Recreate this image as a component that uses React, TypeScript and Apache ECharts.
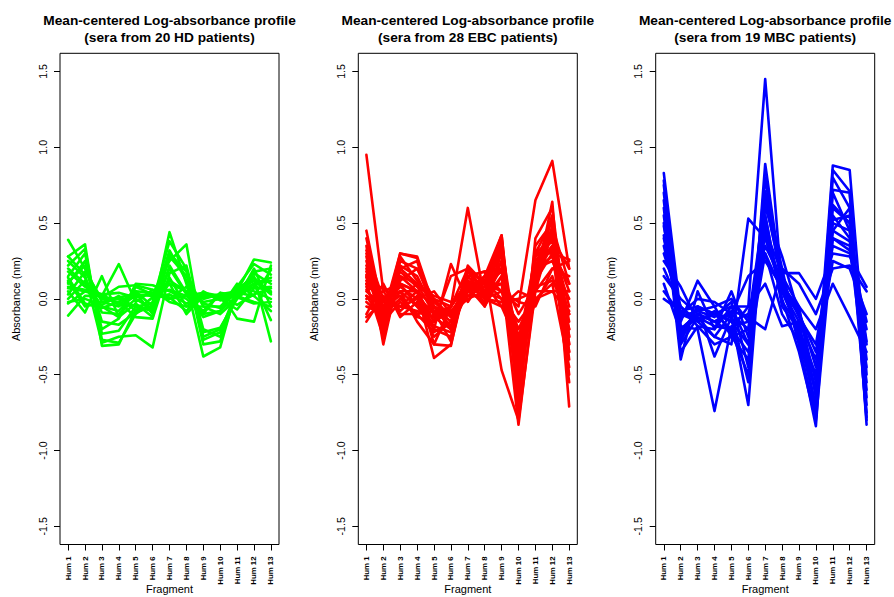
import React, { useEffect, useRef } from "react";
import * as echarts from "echarts";

const FRAGMENTS = ["Hum 1", "Hum 2", "Hum 3", "Hum 4", "Hum 5", "Hum 6", "Hum 7", "Hum 8", "Hum 9", "Hum 10", "Hum 11", "Hum 12", "Hum 13"];
const Y_TICKS = [-1.5, -1.0, -0.5, 0.0, 0.5, 1.0, 1.5];
const MAIN_TITLE = "Mean-centered Log-absorbance profile";
const SUB_TITLES = ["(sera from 20 HD patients)", "(sera from 28 EBC patients)", "(sera from 19 MBC patients)"];
const COLORS = ["#00FF00", "#FF0000", "#0000FF"];

// 20 healthy donors
const HD = [
  [0.39, 0.20, -0.02, 0.01, 0.03, 0.02, 0.10, 0.05, -0.02, 0.00, 0.02, 0.08, 0.05],
  [0.28, 0.36, -0.31, -0.30, -0.07, -0.05, 0.30, 0.18, -0.25, -0.20, 0.02, 0.18, 0.20],
  [0.22, 0.33, -0.27, -0.29, -0.10, -0.02, 0.38, 0.20, -0.30, -0.28, 0.05, 0.26, 0.24],
  [0.15, 0.30, -0.23, -0.21, -0.05, -0.08, 0.44, 0.10, -0.38, -0.32, 0.08, 0.23, 0.16],
  [0.10, 0.25, -0.20, -0.13, 0.08, 0.03, 0.25, 0.36, -0.27, -0.22, 0.06, 0.15, -0.28],
  [0.28, 0.16, -0.29, -0.25, -0.24, -0.32, 0.17, 0.22, -0.20, -0.25, 0.04, 0.17, 0.10],
  [0.05, -0.09, 0.15, -0.12, 0.10, 0.09, 0.05, 0.00, -0.10, 0.04, -0.13, -0.15, 0.22],
  [-0.11, 0.02, 0.02, 0.23, -0.02, 0.06, 0.01, -0.08, 0.05, -0.01, 0.03, 0.10, -0.14],
  [0.20, 0.10, -0.05, -0.08, 0.05, -0.05, 0.12, 0.05, 0.00, 0.03, 0.05, 0.12, 0.03],
  [0.07, 0.05, 0.01, 0.08, 0.09, 0.06, -0.02, -0.05, 0.03, 0.00, -0.07, 0.07, 0.08],
  [0.12, -0.05, -0.02, -0.05, 0.02, 0.03, 0.00, 0.02, -0.08, 0.04, 0.02, -0.02, -0.05],
  [0.00, 0.12, -0.05, -0.12, -0.03, -0.12, 0.28, 0.15, -0.05, -0.10, 0.00, 0.10, 0.14],
  [0.18, 0.08, 0.01, 0.00, -0.05, -0.03, 0.10, -0.10, 0.02, 0.01, 0.04, 0.02, 0.19],
  [0.03, 0.18, 0.00, -0.02, 0.04, -0.10, 0.20, 0.03, -0.10, -0.08, 0.08, 0.05, 0.00],
  [-0.02, 0.00, -0.04, 0.02, -0.08, 0.01, 0.03, -0.03, 0.01, 0.03, 0.01, -0.03, -0.02],
  [0.25, 0.14, -0.09, -0.10, 0.00, -0.07, 0.14, -0.05, -0.05, -0.05, 0.04, 0.10, 0.12],
  [0.08, 0.06, 0.03, -0.04, 0.05, 0.04, 0.00, 0.08, -0.03, -0.06, 0.10, 0.02, -0.08],
  [0.14, -0.03, -0.06, -0.02, -0.12, -0.13, 0.22, 0.04, -0.12, -0.08, 0.02, 0.14, 0.04],
  [-0.03, 0.05, 0.03, 0.04, 0.01, 0.04, 0.06, 0.02, 0.04, 0.02, -0.04, 0.03, 0.07],
  [0.11, 0.22, -0.15, -0.17, -0.09, -0.05, 0.32, 0.12, -0.22, -0.19, 0.00, 0.20, -0.05],
];

// 28 early breast cancer patients
const EBC = [
  [0.95, 0.05, 0.10, 0.05, -0.05, -0.10, 0.10, 0.05, 0.20, -0.40, 0.30, 0.40, -0.20],
  [0.45, -0.10, 0.30, 0.28, -0.05, -0.20, 0.05, 0.10, 0.42, -0.65, 0.20, 0.55, -0.30],
  [0.35, -0.30, 0.20, 0.10, -0.10, -0.05, 0.10, 0.00, 0.05, -0.05, 0.65, 0.91, 0.20],
  [0.25, -0.15, 0.30, 0.27, -0.10, -0.05, 0.60, 0.00, 0.15, -0.83, 0.10, 0.64, -0.71],
  [-0.15, 0.02, -0.05, 0.05, -0.39, -0.30, 0.15, 0.18, -0.47, -0.80, 0.05, 0.45, -0.50],
  [0.15, -0.10, 0.05, -0.15, -0.30, -0.31, 0.20, 0.10, 0.10, -0.60, 0.30, 0.30, 0.26],
  [0.20, -0.20, 0.25, 0.20, 0.00, -0.12, 0.08, 0.12, 0.35, -0.35, 0.25, 0.40, 0.20],
  [0.05, -0.05, 0.10, -0.05, -0.20, 0.23, -0.02, 0.15, 0.05, -0.02, -0.05, 0.20, 0.15],
  [0.30, -0.08, 0.15, 0.05, -0.15, -0.08, 0.05, 0.08, 0.30, -0.50, 0.15, 0.35, -0.35],
  [0.00, 0.05, -0.10, -0.10, -0.05, -0.15, 0.18, 0.05, 0.00, -0.15, 0.00, 0.05, -0.10],
  [-0.05, -0.10, 0.00, 0.10, 0.00, -0.05, 0.12, 0.00, -0.05, 0.05, 0.00, 0.10, -0.45],
  [0.10, 0.00, -0.05, -0.08, -0.12, -0.20, 0.20, -0.05, 0.25, -0.45, 0.20, 0.25, 0.00],
  [0.40, -0.12, 0.22, 0.15, -0.08, -0.10, 0.00, 0.05, 0.38, -0.55, 0.35, 0.50, -0.25],
  [0.12, -0.05, 0.08, 0.00, -0.18, -0.22, 0.22, 0.10, -0.05, -0.30, 0.10, 0.55, -0.40],
  [0.02, -0.15, -0.02, -0.10, -0.08, -0.28, 0.15, 0.02, 0.20, -0.25, 0.12, 0.30, 0.10],
  [0.18, -0.02, 0.18, 0.08, 0.02, -0.02, 0.06, 0.15, 0.42, -0.60, 0.22, 0.35, 0.05],
  [-0.10, 0.10, -0.12, -0.02, -0.25, -0.15, 0.10, 0.10, 0.05, -0.35, -0.02, 0.15, -0.20],
  [0.08, -0.18, 0.12, 0.20, -0.05, -0.18, 0.05, -0.02, 0.30, -0.45, 0.18, 0.42, -0.15],
  [0.22, -0.05, 0.02, -0.12, -0.15, -0.05, 0.12, 0.05, 0.10, -0.20, 0.05, 0.20, 0.25],
  [0.28, -0.22, 0.28, 0.12, -0.02, -0.12, 0.02, 0.08, 0.40, -0.75, 0.40, 0.60, -0.30],
  [0.06, 0.08, -0.08, 0.02, -0.10, -0.10, 0.08, -0.05, 0.15, -0.10, 0.08, 0.12, -0.08],
  [-0.02, -0.12, 0.05, 0.05, -0.20, -0.25, 0.18, 0.12, 0.00, -0.40, 0.25, 0.32, -0.55],
  [0.14, -0.08, 0.20, 0.25, -0.12, -0.08, 0.02, 0.02, 0.35, -0.65, 0.15, 0.48, 0.10],
  [0.32, 0.00, 0.05, -0.05, -0.05, -0.20, 0.15, 0.18, 0.20, -0.30, 0.28, 0.38, -0.05],
  [0.10, -0.25, 0.15, 0.10, -0.30, -0.05, 0.20, 0.05, 0.25, -0.55, 0.10, 0.45, -0.35],
  [-0.12, -0.02, -0.05, 0.00, 0.05, -0.10, 0.10, 0.00, -0.02, 0.00, 0.05, 0.05, 0.05],
  [0.02, -0.05, 0.10, 0.05, -0.15, 0.15, 0.20, 0.10, 0.18, -0.50, 0.20, 0.28, -0.10],
  [0.16, -0.10, 0.00, -0.10, -0.22, -0.15, 0.05, 0.15, 0.32, -0.70, 0.30, 0.52, -0.25],
];

// 19 metastatic breast cancer patients
const MBC = [
  [0.83, -0.10, -0.15, -0.10, -0.20, -0.05, 1.45, 0.05, -0.20, -0.60, 0.88, 0.85, -0.50],
  [0.75, -0.20, -0.10, -0.15, -0.10, -0.55, 0.89, 0.10, -0.25, -0.70, 0.85, 0.71, -0.83],
  [0.70, -0.25, -0.05, -0.38, -0.12, -0.70, 0.71, 0.20, -0.30, -0.84, 0.72, 0.70, -0.75],
  [0.60, -0.40, 0.05, -0.20, -0.05, -0.30, 0.60, 0.28, -0.10, -0.55, 0.60, 0.50, -0.60],
  [0.55, -0.30, -0.12, -0.25, -0.30, 0.53, 0.40, 0.05, -0.15, -0.75, 0.50, 0.45, -0.40],
  [0.48, -0.15, 0.12, -0.05, -0.25, -0.20, 0.55, -0.05, -0.20, -0.50, 0.45, 0.60, -0.70],
  [0.42, -0.18, -0.20, -0.74, -0.18, -0.15, 0.65, 0.15, -0.05, -0.65, 0.55, 0.40, -0.30],
  [0.35, -0.12, -0.08, -0.12, -0.02, -0.45, 0.50, 0.00, -0.35, -0.80, 0.40, 0.35, -0.55],
  [0.25, 0.08, -0.15, -0.08, -0.15, -0.10, 0.35, 0.12, -0.12, -0.30, 0.35, 0.30, -0.20],
  [0.20, -0.05, -0.18, -0.20, 0.05, -0.25, 0.45, 0.17, 0.17, 0.00, 0.30, 0.28, 0.08],
  [0.15, 0.00, -0.10, -0.15, -0.08, -0.12, -0.20, 0.20, 0.10, -0.10, 0.20, 0.22, 0.05],
  [0.10, -0.22, -0.12, -0.18, -0.20, -0.35, 0.30, -0.10, -0.28, -0.60, 0.52, 0.55, -0.65],
  [0.05, -0.10, 0.00, -0.02, -0.10, 0.15, 0.25, 0.08, -0.05, -0.20, 0.10, -0.12, -0.35],
  [0.00, -0.08, -0.05, -0.10, -0.05, -0.05, 0.10, -0.18, -0.15, -0.40, 0.25, 0.20, -0.10],
  [0.65, -0.35, -0.18, -0.30, -0.25, -0.40, 0.80, 0.05, -0.22, -0.72, 0.62, 0.50, -0.78],
  [0.30, -0.05, -0.15, -0.25, -0.10, -0.20, 0.42, 0.10, -0.08, -0.45, 0.45, 0.38, -0.45],
  [0.50, -0.28, -0.05, -0.10, -0.15, -0.30, 0.55, -0.02, -0.18, -0.62, 0.70, 0.45, -0.28],
  [0.78, -0.20, -0.10, -0.15, -0.22, -0.50, 0.65, 0.12, -0.30, -0.78, 0.80, 0.60, -0.80],
  [0.40, -0.12, -0.08, -0.05, 0.00, -0.15, 0.30, 0.05, -0.10, -0.35, 0.40, 0.32, -0.15],
];

const GROUPS = [HD, EBC, MBC];

const FONT = "'Liberation Sans', Arial, Helvetica, sans-serif";
const GRID_LEFT = [60, 358.3, 655.7];
const GRID_TOP = 53.3;
const GRID_W = 219;
const GRID_H = 491.2;

export default function App() {
  const ref = useRef<HTMLDivElement>(null);

  useEffect(() => {
    if (!ref.current) return;
    const chart = echarts.init(ref.current, undefined, { renderer: "svg" });
    const xTickVals = FRAGMENTS.map((_, k) => k + 1);

    const grid = GRID_LEFT.map((l) => ({
      left: l,
      top: GRID_TOP,
      width: GRID_W,
      height: GRID_H,
      show: true,
      borderColor: "#000",
      borderWidth: 1,
      backgroundColor: "transparent",
      containLabel: false,
      outerBoundsMode: "none",
    }));

    const xAxis = GRID_LEFT.map((_, i) => ({
      type: "value",
      gridIndex: i,
      min: 0.52,
      max: 13.48,
      name: "Fragment",
      nameLocation: "middle",
      nameGap: 39,
      nameMoveOverlap: false,
      nameTextStyle: { fontSize: 11, color: "#000", fontFamily: FONT },
      axisLine: { show: false, onZero: false },
      splitLine: { show: false },
      axisTick: { show: true, length: 6, customValues: xTickVals, lineStyle: { color: "#000", width: 1 } },
      axisLabel: {
        customValues: xTickVals,
        formatter: (v: number) => FRAGMENTS[Math.round(v) - 1],
        rotate: 90,
        fontSize: 7.8,
        fontWeight: "bold",
        color: "#000",
        fontFamily: FONT,
        margin: 12,
      },
    }));

    const yAxis = GRID_LEFT.map((_, i) => ({
      type: "value",
      gridIndex: i,
      min: -1.62,
      max: 1.62,
      name: "Absorbance (nm)",
      nameLocation: "middle",
      nameGap: 39,
      nameRotate: 90,
      nameMoveOverlap: false,
      nameTextStyle: { fontSize: 11, color: "#000", fontFamily: FONT },
      axisLine: { show: false, onZero: false },
      splitLine: { show: false },
      axisTick: { show: true, length: 6, customValues: Y_TICKS, lineStyle: { color: "#000", width: 1 } },
      axisLabel: {
        customValues: Y_TICKS,
        formatter: (v: number) => v.toFixed(1),
        rotate: 90,
        fontSize: 10.6,
        color: "#000",
        fontFamily: FONT,
        margin: 12,
      },
    }));

    const series: any[] = [];
    GROUPS.forEach((profiles, g) => {
      profiles.forEach((vals, p) => {
        series.push({
          type: "line",
          name: `${g}-${p}`,
          xAxisIndex: g,
          yAxisIndex: g,
          data: vals.map((v, k) => [k + 1, v]),
          symbol: "none",
          silent: true,
          lineStyle: { width: 2.6, color: COLORS[g], cap: "round", join: "round" },
          itemStyle: { color: COLORS[g] },
        });
      });
    });

    const graphic: any[] = [];
    GRID_LEFT.forEach((l, i) => {
      const cx = l + GRID_W / 2;
      graphic.push({
        type: "text",
        x: cx,
        y: 20.5,
        style: { text: MAIN_TITLE, align: "center", verticalAlign: "middle", fontSize: 13.7, fontWeight: "bold", fontFamily: FONT, fill: "#000" },
      });
      graphic.push({
        type: "text",
        x: cx,
        y: 37,
        style: { text: SUB_TITLES[i], align: "center", verticalAlign: "middle", fontSize: 13.7, fontWeight: "bold", fontFamily: FONT, fill: "#000" },
      });
    });

    chart.setOption({
      animation: false,
      backgroundColor: "#fff",
      grid,
      xAxis,
      yAxis,
      series,
      graphic,
    });

    return () => chart.dispose();
  }, []);

  return (
    <div
      ref={ref}
      style={{ position: "fixed", left: 0, top: 0, width: 894, height: 597, background: "#fff" }}
    />
  );
}
